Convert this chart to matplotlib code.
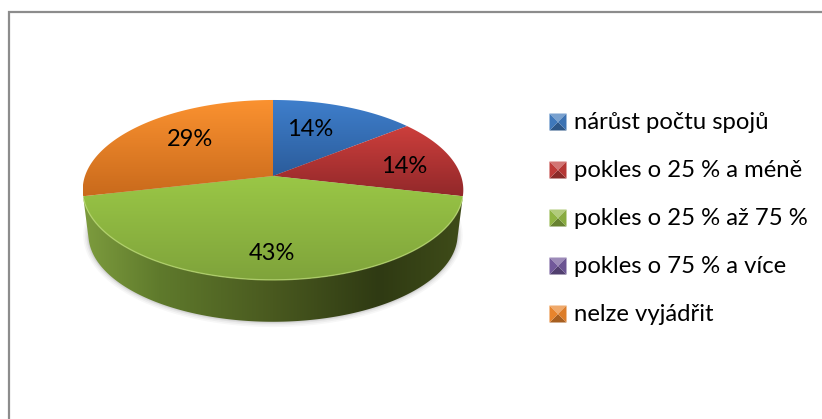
import numpy as np
import matplotlib
matplotlib.use("Agg")
import matplotlib.pyplot as plt
from matplotlib.patches import Polygon
from matplotlib.colors import LinearSegmentedColormap

categories = ["nárůst počtu spojů", "pokles o 25 % a méně", "pokles o 25 % až 75 %",
              "pokles o 75 % a více", "nelze vyjádřit"]
values = [1, 1, 3, 0, 2]
top_colors = ["#3f7fcc", "#cd3f3c", "#9ac746", "#8064a2", "#fb9230"]
low_colors = ["#2b5c9b", "#92282a", "#7fa33b", "#5c4776", "#c96a1c"]
key_colors = ["#3f78bb", "#be3a38", "#8fb443", "#71589a", "#e8842c"]

# pixel places of the percent labels
label_xy = {0: (310, 129), 1: (404, 166), 2: (272, 253), 4: (190, 139)}
legend_y = [122, 170, 218, 266, 314]

plt.rcParams['font.family'] = ['Lato', 'DejaVu Sans']

fig = plt.figure(figsize=(8.22, 4.19), dpi=100)
ax = fig.add_axes([0, 0, 1, 1])


def project(theta, cy=176.0, s=1.0):
    # angle clockwise from the top, tilted circle with some perspective
    u, v = np.sin(theta), np.cos(theta)
    d = 1 + 0.155 * v
    return 273 + s * 188 * u / d, cy - s * 87.8 * v / d


def gradient(patch, c0, c1, horizontal=False, stops=None):
    x0, y0 = patch.get_xy().min(axis=0)
    x1, y1 = patch.get_xy().max(axis=0)
    if stops is None:
        cmap = LinearSegmentedColormap.from_list("g", [c0, c1])
    else:
        cmap = LinearSegmentedColormap.from_list("g", stops)
    g = np.linspace(0, 1, 256)
    g = g.reshape(1, -1) if horizontal else g.reshape(-1, 1)
    im = ax.imshow(g, cmap=cmap, extent=(x0, x1, y1, y0), aspect='auto', zorder=patch.get_zorder(),
                   interpolation='bilinear', vmin=0, vmax=1)
    ax.add_patch(patch)
    patch.set_facecolor('none')
    patch.set_edgecolor('none')
    im.set_clip_path(patch)


fractions = np.array(values, float) / sum(values)
edges = np.concatenate([[0], np.cumsum(fractions)]) * 2 * np.pi

# soft shadow under the pie
t = np.linspace(0, 2 * np.pi, 300)
for grow, alpha in zip([5, 3.5, 2, 1], [0.03, 0.04, 0.05, 0.06]):
    sx, sy = project(t, 221, 0.97)
    cx, cy = 273, 221
    ax.add_patch(Polygon(np.c_[cx + (sx - cx) * (1 + grow / 180), cy + (sy - cy) * (1 + grow / 95)],
                         fc='k', ec='none', alpha=alpha, zorder=1))

# side wall, only the front facing part of each slice
for i, val in enumerate(values):
    if val == 0:
        continue
    t = np.linspace(edges[i], edges[i + 1], 200)
    t = t[np.cos(t) < -0.2]
    if len(t) < 2:
        continue
    tx, ty = project(t)
    bx, by = project(t, 221, 0.97)
    side = Polygon(np.c_[np.r_[tx, bx[::-1]], np.r_[ty, by[::-1]]], zorder=2)
    gradient(side, None, None, horizontal=True,
             stops=[(0, "#7d9c3e"), (0.2, "#5f7a2c"), (0.5, "#49591f"), (0.78, "#2f3a13"), (1, "#3f4c19")])

# top face
for i, val in enumerate(values):
    if val == 0:
        continue
    t = np.linspace(edges[i], edges[i + 1], 200)
    x, y = project(t)
    cx, cy = project(0.0)[0], 176.0
    top = Polygon(np.c_[np.r_[cx, x], np.r_[cy, y]], zorder=3)
    gradient(top, top_colors[i], low_colors[i])

# light rim on the front edge
t = np.linspace(edges[2] + 0.04, edges[3] - 0.04, 200)
x, y = project(t)
ax.plot(x, y, color="#bcdc74", lw=1.0, alpha=0.7, zorder=4)

total = sum(values)
for i, (lx, ly) in label_xy.items():
    ax.text(lx, ly + 0.5, "%d%%" % round(100 * values[i] / total), fontsize=17, color="black",
            ha='center', va='center', zorder=5)


def legend_key(x, y, color, size=17):
    base = np.array(matplotlib.colors.to_rgb(color))
    light = np.clip(base * 0.7 + 0.3, 0, 1)
    dark = base * 0.72
    x0, x1, y0, y1 = x, x + size, y - size / 2, y + size / 2
    mx, my = (x0 + x1) / 2, (y0 + y1) / 2
    ax.add_patch(Polygon([(x0, y0), (x1, y0), (mx, my)], fc=light, ec='none', zorder=3))
    ax.add_patch(Polygon([(x0, y1), (x1, y1), (mx, my)], fc=dark, ec='none', zorder=3))
    ax.add_patch(Polygon([(x0, y0), (x0, y1), (mx, my)], fc=base, ec='none', zorder=3))
    ax.add_patch(Polygon([(x1, y0), (x1, y1), (mx, my)], fc=base * 0.95, ec='none', zorder=3))


for name, color, ly in zip(categories, key_colors, legend_y):
    legend_key(549.5, ly, color)
    ax.text(574, ly, name, fontsize=17.2, color="black", ha='left', va='center', zorder=5)

# chart frame, only top and left reach into the crop
ax.plot([8.5, 8.5, 822], [419, 12, 12], color="#8c8c8c", lw=1.6, solid_joinstyle='miter')

ax.set_xlim(0, 822)
ax.set_ylim(419, 0)
ax.axis('off')
fig.savefig("out.png", dpi=100)
